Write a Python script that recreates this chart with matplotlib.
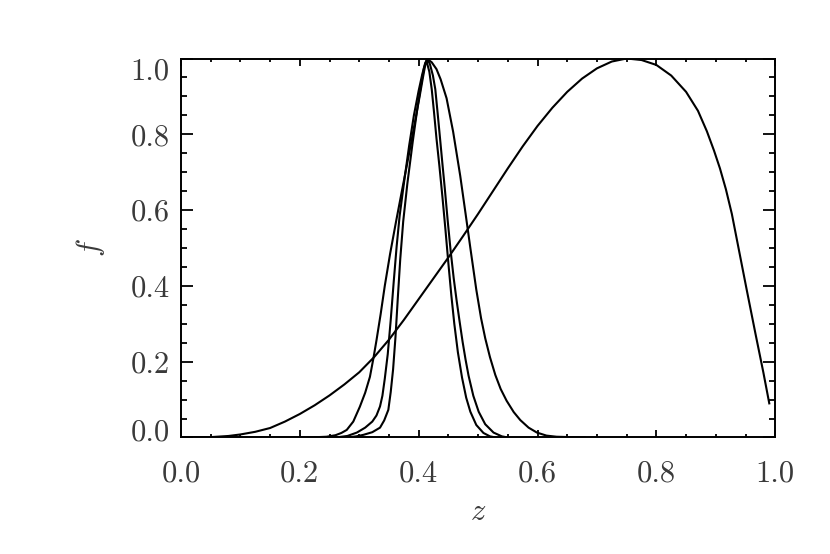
import matplotlib
matplotlib.use('Agg')
import matplotlib.pyplot as plt
import matplotlib.transforms as mtransforms
from matplotlib.ticker import MultipleLocator, FormatStrFormatter

# broad distribution
z_a = [0.0, 0.05, 0.08, 0.1, 0.125, 0.15, 0.175, 0.2, 0.225, 0.25, 0.275,
       0.3, 0.325, 0.35, 0.375, 0.4, 0.425, 0.45, 0.475, 0.5, 0.525, 0.55,
       0.575, 0.6, 0.625, 0.65, 0.675, 0.7, 0.725, 0.75, 0.775, 0.8, 0.825,
       0.85, 0.87, 0.885, 0.897, 0.907, 0.917, 0.927, 0.937, 0.952, 0.967,
       0.98, 0.99]
f_a = [0.0, 0.001, 0.004, 0.008, 0.015, 0.025, 0.042, 0.062, 0.085, 0.111,
       0.14, 0.172, 0.212, 0.258, 0.31, 0.365, 0.42, 0.475, 0.532, 0.59,
       0.65, 0.71, 0.768, 0.822, 0.87, 0.912, 0.947, 0.974, 0.992, 1.0,
       0.996, 0.983, 0.955, 0.912, 0.862, 0.808, 0.757, 0.71, 0.655, 0.59,
       0.51, 0.39, 0.272, 0.172, 0.09]

# narrow distributions
z_1 = [0.0, 0.2, 0.23, 0.245, 0.26, 0.27, 0.279, 0.29, 0.301, 0.31, 0.318,
       0.324, 0.329, 0.336, 0.343, 0.352, 0.362, 0.372, 0.385, 0.395, 0.402,
       0.407, 0.411, 0.416, 0.422, 0.43, 0.437, 0.447, 0.458, 0.47, 0.479,
       0.487, 0.497, 0.505, 0.512, 0.52, 0.529, 0.538, 0.548, 0.56, 0.571,
       0.585, 0.599, 0.615, 0.632, 0.68]
f_1 = [0.0, 0.0, 0.001, 0.002, 0.006, 0.012, 0.02, 0.042, 0.081, 0.118,
       0.16, 0.21, 0.256, 0.325, 0.4, 0.485, 0.57, 0.652, 0.758, 0.843,
       0.903, 0.948, 0.982, 0.997, 0.99, 0.972, 0.945, 0.895, 0.807, 0.69,
       0.59, 0.5, 0.39, 0.315, 0.262, 0.212, 0.165, 0.128, 0.097, 0.067,
       0.046, 0.026, 0.013, 0.005, 0.002, 0.0]

z_2 = [0.26, 0.28, 0.296, 0.31, 0.322, 0.329, 0.335, 0.339, 0.343, 0.348,
       0.353, 0.358, 0.363, 0.368, 0.376, 0.384, 0.392, 0.4, 0.406, 0.411,
       0.415, 0.419, 0.424, 0.428, 0.432, 0.436, 0.44, 0.444, 0.449, 0.454,
       0.459, 0.464, 0.469, 0.474, 0.479, 0.484, 0.492, 0.501, 0.512, 0.526,
       0.54, 0.55]
f_2 = [0.0, 0.004, 0.013, 0.026, 0.042, 0.058, 0.082, 0.11, 0.155, 0.22,
       0.31, 0.41, 0.505, 0.585, 0.68, 0.77, 0.85, 0.915, 0.958, 0.988,
       0.998, 0.985, 0.955, 0.919, 0.855, 0.789, 0.722, 0.657, 0.57, 0.49,
       0.42, 0.36, 0.305, 0.252, 0.205, 0.163, 0.11, 0.068, 0.035, 0.013,
       0.003, 0.0]

z_3 = [0.28, 0.295, 0.307, 0.322, 0.335, 0.342, 0.349, 0.353, 0.357, 0.361,
       0.365, 0.369, 0.374, 0.381, 0.39, 0.398, 0.404, 0.409, 0.413, 0.418,
       0.422, 0.426, 0.43, 0.435, 0.44, 0.445, 0.45, 0.455, 0.46, 0.466,
       0.473, 0.48, 0.487, 0.497, 0.509, 0.52, 0.53]
f_3 = [0.0, 0.003, 0.007, 0.014, 0.026, 0.045, 0.073, 0.12, 0.18, 0.265,
       0.37, 0.47, 0.57, 0.67, 0.78, 0.87, 0.93, 0.975, 0.995, 0.965,
       0.919, 0.856, 0.789, 0.715, 0.635, 0.55, 0.46, 0.375, 0.3, 0.225,
       0.158, 0.105, 0.068, 0.033, 0.012, 0.003, 0.0]

y_ticks = [0.0, 0.2, 0.4, 0.6, 0.8, 1.0]
x_ticks = [0.0, 0.2, 0.4, 0.6, 0.8, 1.0]

plt.rcParams['font.family'] = 'serif'
plt.rcParams['font.serif'] = ['cmr10']
plt.rcParams['mathtext.fontset'] = 'cm'
plt.rcParams['axes.formatter.use_mathtext'] = True

fig = plt.figure(figsize=(8.3, 5.54), dpi=100)
ax = fig.add_axes([0.218, 0.2103, 0.716, 0.6841])

for z, f in [(z_a, f_a), (z_1, f_1), (z_2, f_2), (z_3, f_3)]:
    ax.plot(z, f, color='black', lw=1.5, solid_joinstyle='round')

ax.set_xlim(0, 1)
ax.set_ylim(0, 1)
ax.set_xticks(x_ticks)
ax.set_yticks(y_ticks)
ax.xaxis.set_minor_locator(MultipleLocator(0.05))
ax.yaxis.set_minor_locator(MultipleLocator(0.05))
ax.xaxis.set_major_formatter(FormatStrFormatter('%.1f'))
ax.yaxis.set_major_formatter(FormatStrFormatter('%.1f'))

for s in ax.spines.values():
    s.set_linewidth(1.4)

ax.tick_params(which='both', direction='in', top=True, right=True,
               width=1.3, labelsize=22, labelcolor='#3a3a3a')
ax.tick_params(axis='x', which='major', length=5.2, pad=16)
ax.tick_params(axis='x', which='minor', length=2.5)
ax.tick_params(axis='y', which='major', length=8.8, pad=8)
ax.tick_params(axis='y', which='minor', length=4.4)

# end labels of the y axis sit inside the frame, as in the original
yt = ax.yaxis.get_major_ticks()
for tk, dy in [(yt[0], 7.5), (yt[-1], -10.5)]:
    tk.label1.set_transform(tk.label1.get_transform() +
                            mtransforms.ScaledTranslation(0, dy / 100,
                                                          fig.dpi_scale_trans))

fig.text(478 / 830, 1 - 512 / 554, '$z$', fontsize=22, color='#3a3a3a',
         ha='center', va='center')
fig.text(90 / 830, 1 - 248 / 554, '$f$', fontsize=22, color='#3a3a3a',
         rotation=90, ha='center', va='center')

fig.savefig('out.png', dpi=100)
